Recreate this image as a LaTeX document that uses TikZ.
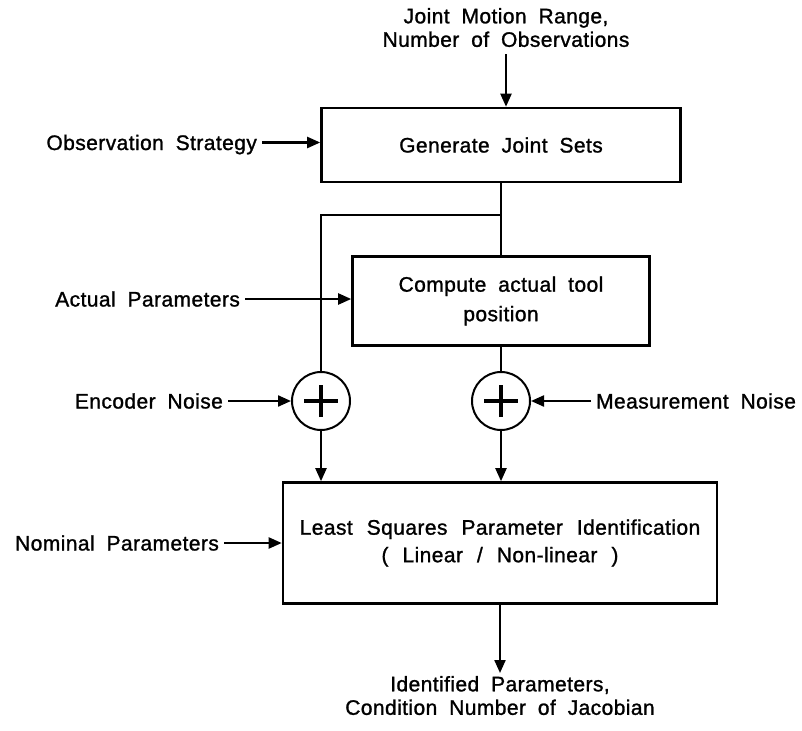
\documentclass[tikz,border=0pt]{standalone}
\usepackage{fontspec}
\setmainfont{Liberation Sans}[LetterSpace=2,WordSpace=1.9,RawFeature={embolden=1.2}]
\usetikzlibrary{arrows.meta}

\begin{document}
\begin{tikzpicture}[x=1pt,y=-1pt,>={Triangle[length=13pt,width=11pt]},line width=2.2pt,
      every node/.style={font=\fontsize{21}{23.5}\selectfont},
      block/.style={rectangle,draw,line width=2.6pt,align=center,inner sep=0pt},
      sum/.style={circle,draw,line width=2pt,minimum size=58pt,inner sep=0pt},
      in label/.style={inner sep=0pt,inner xsep=4pt,text height=15pt,text depth=0pt},
      out label/.style={align=center,inner sep=0pt}]
    \useasboundingbox (0,0) rectangle (802,730);

    % the three blocks
    \node[block,minimum width=359pt,minimum height=74pt] (gen) at (501,145) {Generate Joint Sets};
    \node[block,minimum width=297pt,minimum height=89pt] (tool) at (501,301) {Compute actual tool\\[6pt]position};
    \node[block,minimum width=434pt,minimum height=121pt,
          font={\fontsize{21}{23.5}\selectfont\spaceskip=14pt\relax}] (lsq) at (500,543)
        {Least Squares Parameter Identification\\[4pt]( Linear / Non-linear )};

    % summing junctions
    \node[sum] (enc sum) at (321,401) {};
    \node[sum] (meas sum) at (501,401) {};
    \foreach \s in {enc sum,meas sum}
      \draw[line width=3.6pt] ([xshift=-17pt]\s.center) -- ([xshift=17pt]\s.center)
        ([yshift=-16pt]\s.center) -- ([yshift=16pt]\s.center);

    % inputs and output
    \node[out label,anchor=north] (range) at (506,7) {Joint Motion Range,\\Number of Observations};
    \node[in label,anchor=east] (strategy) at (262,142.5) {Observation Strategy};
    \node[in label,anchor=east] (actual) at (245,299) {Actual Parameters};
    \node[in label,anchor=east] (encoder) at (228,401) {Encoder Noise};
    \node[in label,anchor=west] (measure) at (591,401) {Measurement Noise};
    \node[in label,anchor=east] (nominal) at (224,543) {Nominal Parameters};
    \node[out label,anchor=north] (result) at (500,675) {Identified Parameters,\\Condition Number of Jacobian};

    \coordinate (split) at ([yshift=-32pt]gen.south);

    \draw[->,shorten <=6pt] (range.south) -- (range.south |- gen.north);
    \draw[->] (strategy.east) -- (strategy.east -| gen.west);
    \draw (gen.south) -- (tool.north);
    \draw (split) -| (enc sum.north);
    \draw[->] (actual.east) -- (actual.east -| tool.west);
    \draw (tool.south) -- (meas sum.north);
    \draw[->] (encoder) -- (enc sum);
    \draw[->] (measure) -- (meas sum);
    \draw[->] (enc sum.south) -- (enc sum.south |- lsq.north);
    \draw[->] (meas sum.south) -- (meas sum.south |- lsq.north);
    \draw[->] (nominal.east) -- (nominal.east -| lsq.west);
    \draw[->,shorten >=2pt] (lsq.south) -- (lsq.south |- result.north);
\end{tikzpicture}
\end{document}
